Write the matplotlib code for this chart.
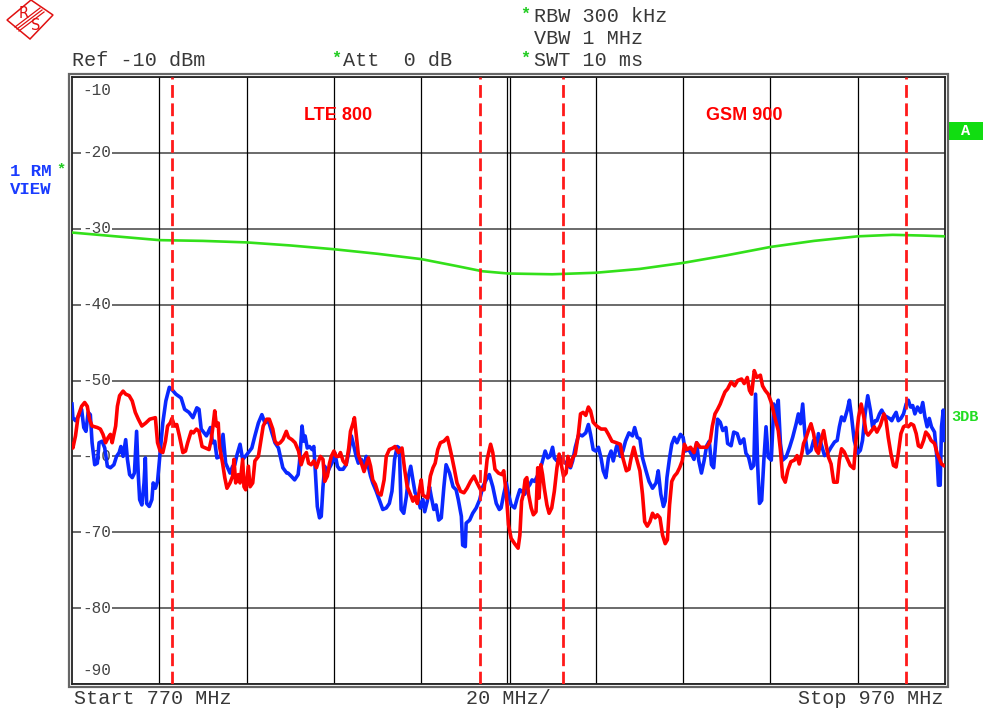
import matplotlib.pyplot as plt
import numpy as np
from matplotlib.patches import Rectangle, Polygon
from matplotlib.lines import Line2D

# --- data (MHz / dBm) ---
blue_f = [770.0, 770.2, 770.8, 771.5, 772.2, 772.7, 773.2, 773.7, 774.2, 774.6, 775.2, 775.8, 776.2, 776.9,
          777.5, 778.1, 778.8, 779.6, 780.2, 780.8, 781.2, 781.7, 782.3, 782.7, 783.2, 783.8, 784.3, 784.8,
          785.2, 785.5, 786.0, 786.5, 786.8, 787.1, 787.7, 788.3, 788.6, 789.1, 789.6, 790.2, 790.8, 791.5,
          792.3, 792.9, 793.8, 795.0, 795.8, 796.8, 797.7, 798.6, 799.1, 799.6, 800.8, 801.7, 802.2, 802.7,
          803.2, 804.0, 804.6, 805.2, 806.2, 806.8, 807.3, 807.8, 808.5, 809.1, 810.0, 811.2, 811.9, 812.7,
          813.5, 814.2, 815.0, 815.8, 816.5, 817.3, 818.3, 819.2, 819.5, 820.2, 821.0, 821.8, 822.1, 822.7,
          823.1, 823.4, 823.9, 824.4, 825.0, 825.4, 825.7, 826.2, 826.7, 827.1, 827.5, 827.9, 828.2, 829.0,
          829.8, 830.2, 830.8, 831.3, 832.1, 832.8, 833.4, 834.0, 834.6, 835.1, 835.6, 836.3, 836.9, 837.4,
          837.8, 838.4, 838.9, 839.7, 840.5, 841.2, 842.0, 842.7, 843.3, 843.9, 844.5, 845.0, 845.4, 846.0,
          846.6, 847.1, 847.6, 848.1, 848.6, 849.2, 849.8, 850.4, 850.8, 851.4, 851.9, 852.3, 852.9, 853.4,
          854.0, 854.6, 855.2, 855.7, 856.5, 857.3, 858.0, 858.5, 859.2, 859.5, 860.1, 860.3, 861.1, 861.8,
          862.6, 863.4, 864.1, 864.9, 865.6, 866.4, 867.2, 867.9, 868.3, 868.9, 869.5, 870.0, 870.6, 871.4,
          872.0, 872.6, 873.1, 873.7, 874.3, 874.9, 875.4, 876.0, 876.6, 877.2, 877.8, 878.4, 879.0, 879.5,
          880.1, 880.5, 881.1, 881.9, 882.6, 883.4, 884.2, 884.7, 885.3, 886.1, 886.9, 887.7, 888.3, 888.8,
          889.4, 890.0, 890.6, 891.2, 891.7, 892.3, 892.9, 893.5, 894.0, 894.7, 895.0, 895.6, 896.2, 896.8,
          897.6, 898.4, 898.9, 899.5, 900.1, 900.7, 901.5, 902.2, 903.0, 903.8, 904.3, 904.9, 905.5, 905.9,
          906.3, 906.9, 907.4, 908.0, 908.6, 909.4, 910.0, 910.5, 911.3, 911.9, 912.5, 913.1, 913.6, 914.2,
          914.8, 915.4, 916.0, 916.5, 917.0, 917.5, 917.9, 918.5, 919.1, 919.8, 920.2, 921.0, 921.6, 922.4,
          923.1, 923.9, 924.4, 925.0, 925.6, 926.2, 926.6, 927.1, 927.5, 928.0, 928.5, 929.0, 929.5, 930.2,
          930.8, 931.3, 931.8, 932.3, 932.8, 933.6, 934.4, 935.1, 935.9, 936.4, 936.9, 937.4, 937.9, 938.5,
          939.3, 939.9, 940.5, 941.0, 941.6, 942.4, 943.1, 943.9, 944.7, 945.3, 945.8, 946.3, 946.9, 947.6,
          948.1, 948.6, 949.2, 950.0, 950.6, 951.1, 951.7, 952.3, 952.9, 953.4, 954.0, 954.4, 955.0, 955.5,
          956.1, 956.7, 957.3, 957.8, 958.2, 958.8, 959.3, 959.9, 960.5, 961.1, 961.6, 962.1, 962.6, 963.1,
          963.7, 964.4, 964.9, 965.4, 965.9, 966.4, 966.9, 967.6, 968.2, 968.5, 968.9, 969.2, 969.6, 969.8]
blue_db = [-53.1, -54.9, -55.3, -54.7, -53.8, -56.2, -56.7, -54.2, -54.5, -58.2, -61.1, -60.9, -58.2, -58.0,
           -58.9, -61.3, -61.5, -61.1, -60.0, -59.5, -58.7, -60.0, -57.8, -60.4, -62.4, -62.8, -62.2, -56.7,
           -62.6, -65.7, -66.4, -63.5, -60.2, -66.2, -66.6, -65.7, -63.5, -64.2, -63.3, -59.5, -55.6, -52.7,
           -50.9, -51.2, -51.8, -52.3, -53.8, -54.2, -54.9, -53.6, -53.8, -56.4, -57.3, -56.2, -58.2, -58.0,
           -60.2, -60.0, -57.1, -60.9, -62.2, -61.3, -61.1, -59.8, -58.4, -60.4, -59.8, -58.9, -57.3, -55.6,
           -54.5, -55.6, -55.3, -56.9, -58.2, -58.9, -61.5, -62.2, -62.2, -62.6, -63.1, -62.4, -60.9, -56.0,
           -58.0, -57.3, -58.9, -58.7, -59.1, -58.7, -61.5, -66.6, -68.1, -67.9, -64.0, -61.3, -62.6, -61.5,
           -60.6, -59.5, -61.3, -61.7, -61.7, -61.1, -59.5, -57.3, -58.7, -60.0, -60.9, -60.4, -61.3, -60.0,
           -61.1, -62.6, -63.5, -64.6, -65.9, -67.0, -66.8, -66.2, -64.6, -60.4, -58.7, -58.9, -67.0, -67.5,
           -65.3, -62.6, -61.3, -63.1, -64.8, -65.3, -66.8, -65.7, -67.3, -65.9, -64.0, -65.3, -67.0, -66.4,
           -68.4, -68.1, -64.0, -61.1, -62.2, -64.0, -64.4, -65.7, -67.9, -71.7, -71.9, -68.8, -68.4, -67.5,
           -66.8, -65.7, -64.0, -63.1, -62.4, -64.0, -66.2, -67.0, -66.8, -65.0, -63.5, -65.0, -66.4, -66.8,
           -65.5, -64.4, -64.6, -65.0, -64.2, -63.7, -63.1, -63.3, -62.6, -61.9, -60.6, -59.3, -60.2, -60.0,
           -58.8, -60.2, -60.6, -60.2, -60.6, -61.1, -61.5, -60.6, -58.8, -57.1, -57.3, -56.9, -55.8, -57.1,
           -59.1, -59.3, -58.8, -60.2, -61.9, -62.8, -60.2, -59.3, -60.6, -58.8, -58.4, -60.0, -59.3, -58.0,
           -56.9, -57.3, -56.2, -57.5, -57.7, -60.2, -61.9, -63.3, -64.2, -63.5, -61.9, -65.0, -66.6, -65.9,
           -62.8, -60.2, -58.4, -57.5, -58.2, -57.1, -57.5, -59.3, -59.1, -59.7, -60.4, -58.2, -60.6, -62.2,
           -60.6, -58.6, -58.0, -61.1, -61.5, -58.0, -55.1, -55.5, -56.6, -56.2, -58.3, -58.6, -56.8, -57.0,
           -58.3, -57.7, -59.6, -60.1, -61.6, -61.2, -51.8, -61.4, -66.2, -65.8, -60.5, -56.1, -60.1, -60.5,
           -53.1, -55.3, -52.6, -58.3, -60.5, -60.1, -58.8, -57.5, -55.7, -54.4, -55.7, -53.1, -57.0, -59.6,
           -59.2, -57.9, -59.0, -57.0, -58.3, -59.9, -59.6, -58.8, -58.1, -57.9, -56.1, -54.8, -55.3, -53.9,
           -52.6, -54.8, -57.9, -59.6, -59.2, -57.9, -54.4, -52.0, -53.9, -56.1, -55.3, -55.3, -54.4, -53.9,
           -54.6, -54.8, -55.0, -55.3, -54.8, -54.2, -55.3, -55.0, -54.4, -53.1, -52.6, -53.5, -53.3, -54.4,
           -53.5, -54.2, -52.9, -54.8, -56.1, -55.0, -56.1, -56.8, -60.5, -63.8, -63.8, -56.1, -53.9, -57.9]

red_f = [770.0, 770.2, 770.8, 771.4, 772.2, 772.9, 773.5, 774.0, 774.6, 775.8, 776.5, 777.1, 777.7, 778.3,
         778.8, 779.2, 780.0, 780.4, 780.9, 781.7, 782.3, 783.1, 783.8, 784.5, 785.2, 786.0, 786.9, 787.8,
         789.1, 789.6, 790.2, 790.8, 791.4, 791.9, 792.5, 792.9, 793.5, 794.0, 794.6, 795.4, 796.0, 796.5,
         797.3, 797.8, 798.5, 799.1, 799.8, 800.6, 801.4, 801.9, 802.3, 802.7, 803.1, 803.5, 803.8, 804.5,
         805.0, 805.5, 806.2, 806.8, 807.1, 807.5, 808.1, 808.5, 809.1, 809.4, 809.8, 810.4, 810.8, 811.4,
         811.9, 812.7, 813.2, 813.8, 814.6, 815.2, 816.0, 816.5, 817.1, 817.7, 818.3, 819.1, 819.6, 820.4,
         821.1, 821.9, 822.5, 823.1, 823.7, 824.2, 824.8, 825.4, 826.0, 826.5, 826.9, 827.5, 827.9, 828.5,
         829.0, 829.4, 830.0, 830.5, 831.1, 831.5, 832.1, 832.8, 833.4, 833.8, 834.4, 834.7, 835.1, 835.6,
         836.3, 836.9, 837.4, 837.9, 838.4, 838.9, 839.5, 840.1, 840.8, 841.5, 842.0, 842.7, 843.5, 844.0,
         844.8, 845.6, 846.2, 846.8, 847.6, 848.1, 848.6, 849.1, 849.6, 850.0, 850.4, 850.9, 851.5, 852.1,
         852.7, 853.2, 853.8, 854.4, 855.2, 856.0, 856.5, 857.0, 857.6, 858.2, 859.0, 859.8, 860.5, 861.3,
         862.1, 862.8, 863.6, 864.4, 865.1, 865.9, 866.4, 866.9, 867.7, 868.5, 868.9, 869.5, 870.0, 870.6,
         871.4, 872.2, 872.6, 873.0, 873.4, 873.8, 874.2, 874.6, 875.2, 875.7, 876.3, 876.7, 877.0, 877.4,
         877.8, 878.2, 878.8, 879.3, 879.9, 880.5, 881.1, 881.6, 882.1, 882.6, 883.2, 883.6, 884.2, 884.7,
         885.3, 886.0, 886.5, 887.1, 887.7, 888.3, 888.8, 889.4, 890.2, 891.2, 892.2, 892.9, 893.7, 894.7,
         895.6, 896.2, 897.0, 897.6, 898.1, 898.7, 899.3, 900.1, 900.7, 901.2, 901.8, 902.4, 903.0, 903.6,
         904.1, 904.7, 905.3, 905.9, 906.4, 906.9, 907.4, 908.0, 908.6, 909.2, 909.8, 910.3, 910.9, 911.7,
         912.5, 913.1, 913.9, 914.7, 915.4, 916.2, 916.7, 917.3, 917.9, 918.5, 919.1, 919.6, 920.2, 921.0,
         921.8, 922.5, 923.4, 924.0, 924.7, 925.2, 925.7, 926.3, 926.9, 927.7, 928.2, 928.8, 929.5, 930.2,
         930.8, 931.3, 931.8, 932.3, 932.8, 933.4, 934.0, 934.7, 935.5, 936.1, 936.6, 937.2, 937.6, 938.2,
         938.7, 939.3, 939.9, 940.5, 941.0, 941.6, 942.2, 942.7, 943.3, 943.9, 944.5, 945.3, 945.8, 946.3,
         946.9, 947.6, 948.3, 949.1, 949.6, 950.2, 950.8, 951.4, 951.9, 952.4, 953.2, 953.8, 954.4, 955.2,
         956.0, 956.5, 957.0, 957.6, 958.2, 958.8, 959.3, 959.9, 960.5, 961.1, 961.6, 962.2, 962.8, 963.4,
         963.9, 964.5, 965.1, 965.6, 966.2, 966.8, 967.6, 968.2, 968.7, 969.2, 969.7]
red_db = [-58.4, -58.9, -57.3, -54.7, -53.4, -52.9, -53.4, -55.1, -56.0, -56.2, -56.4, -57.1, -58.2, -57.5,
          -57.1, -58.2, -56.0, -53.4, -52.0, -51.4, -51.8, -52.0, -52.7, -54.2, -55.1, -56.0, -55.6, -55.1,
          -54.9, -58.2, -59.3, -59.5, -58.0, -56.0, -55.6, -55.0, -56.0, -55.8, -57.3, -59.5, -59.3, -58.2,
          -56.7, -56.9, -56.4, -56.7, -58.7, -58.9, -59.1, -57.8, -56.0, -54.0, -56.0, -55.6, -58.7, -60.9,
          -62.8, -64.2, -63.5, -62.6, -60.4, -63.5, -62.4, -63.5, -60.4, -64.0, -64.4, -61.3, -64.0, -63.5,
          -60.6, -60.0, -58.2, -56.0, -55.1, -55.1, -56.4, -58.0, -58.4, -58.2, -57.8, -56.7, -57.5, -57.8,
          -58.2, -59.3, -61.1, -60.0, -59.5, -60.9, -61.1, -60.6, -61.5, -60.6, -60.0, -60.4, -63.3, -62.6,
          -60.9, -60.0, -59.3, -60.0, -60.0, -59.5, -60.6, -61.1, -58.9, -56.7, -55.6, -54.9, -57.1, -59.8,
          -60.9, -62.0, -61.1, -60.2, -61.3, -63.1, -63.7, -64.8, -65.1, -63.1, -60.0, -59.1, -58.9, -58.7,
          -59.5, -58.9, -61.7, -64.0, -65.1, -65.9, -65.3, -66.2, -64.4, -63.1, -65.1, -65.3, -65.5, -62.6,
          -61.5, -60.9, -59.1, -58.2, -58.0, -57.5, -58.7, -60.0, -61.7, -63.5, -64.6, -64.8, -64.2, -63.3,
          -62.6, -63.5, -64.4, -64.4, -60.4, -58.4, -59.5, -61.7, -62.2, -62.4, -61.9, -65.0, -69.0, -70.8,
          -71.5, -72.1, -70.4, -65.9, -65.0, -63.1, -62.8, -65.0, -66.8, -67.7, -67.3, -61.5, -65.5, -61.1,
          -62.4, -64.2, -66.4, -67.5, -66.8, -64.6, -61.5, -59.7, -61.1, -62.6, -62.2, -60.0, -61.3, -60.2,
          -59.7, -57.1, -54.4, -54.2, -54.6, -53.5, -54.0, -55.5, -56.0, -56.4, -56.4, -57.1, -58.0, -58.2,
          -58.4, -60.2, -61.9, -61.7, -60.2, -58.8, -60.2, -61.9, -65.0, -68.6, -69.2, -68.6, -67.5, -68.1,
          -67.7, -68.1, -70.4, -71.5, -71.0, -66.4, -63.3, -62.6, -62.2, -61.5, -60.6, -58.4, -59.1, -58.8,
          -59.5, -58.2, -58.8, -58.8, -58.8, -58.0, -56.0, -54.4, -53.8, -53.1, -52.2, -51.5, -51.1, -50.2,
          -50.7, -50.0, -49.8, -50.4, -49.6, -51.3, -51.8, -48.7, -49.6, -49.3, -50.7, -51.3, -51.8, -52.9,
          -54.4, -55.5, -56.6, -59.2, -62.7, -63.4, -61.8, -60.7, -60.5, -59.9, -61.0, -59.6, -58.3, -57.5,
          -56.6, -55.7, -57.0, -59.2, -59.6, -57.9, -56.6, -58.3, -60.1, -61.0, -63.4, -63.4, -60.5, -59.0,
          -59.4, -60.3, -61.2, -61.6, -57.9, -54.8, -53.1, -54.8, -56.8, -57.2, -56.6, -56.1, -56.8, -55.9,
          -54.4, -55.3, -57.5, -59.6, -61.2, -61.4, -59.6, -57.0, -56.1, -55.9, -56.1, -55.7, -55.9, -57.0,
          -58.6, -58.8, -57.9, -56.8, -57.2, -57.9, -58.3, -59.6, -60.3, -61.0, -61.2]

ref_f = [770, 776, 782, 790, 800, 810, 820, 830, 840, 850, 858, 864, 870, 880,
         890, 900, 910, 920, 930, 940, 950, 958, 965, 970]
ref_db = [-30.5, -30.8, -31.1, -31.5, -31.6, -31.8, -32.2, -32.7, -33.3, -34.0, -34.9, -35.6, -35.9, -36.0,
          -35.8, -35.3, -34.5, -33.5, -32.4, -31.6, -31.0, -30.8, -30.9, -31.0]

band_edges = [793.0, 863.5, 882.5, 961.0]
band_labels = ["LTE 800", "GSM 900"]
band_label_f = [831.0, 924.0]

y_ticks = [-10, -20, -30, -40, -50, -60, -70, -80, -90]

W, H = 985, 711
MONO = "Liberation Mono"
TXT = "#383838"


def px(x, y):
    return x / W, 1 - y / H


def main():
    fig = plt.figure(figsize=(W / 100, H / 100), dpi=100)
    ax = fig.add_axes([72 / W, 1 - 684 / H, 873 / W, 607 / H])
    ax.set_xlim(770, 970)
    ax.set_ylim(-90, -10)
    ax.set_xticks([])
    ax.set_yticks([])
    for s in ax.spines.values():
        s.set_color("#222222")
        s.set_linewidth(1.3)

    # outer frame
    fig.add_artist(Rectangle(px(69, 687), 879 / W, 613 / H, fill=False,
                             ec="#666666", lw=1.6, transform=fig.transFigure))

    # grid
    for v in y_ticks:
        ax.axhline(v, color="#6a6a6a", lw=1.4, zorder=1)
    for f in np.arange(790, 970, 20):
        if f == 870:
            ax.axvline(869.75, color="black", lw=0.9, zorder=1)
            ax.axvline(870.45, color="black", lw=0.9, zorder=1)
        else:
            ax.axvline(f, color="black", lw=0.9, zorder=1)

    # y labels inside the plot
    for v in y_ticks:
        yy = v
        if v == -10:
            yy = -11.8
        elif v == -90:
            yy = -88.2
        ax.text(0.0115, yy, str(v), transform=ax.get_yaxis_transform(),
                family=MONO, fontsize=11.5, color="#444444", va="center", ha="left",
                bbox=dict(fc="white", ec="none", pad=1.0), zorder=1.5)

    # traces
    ax.plot(ref_f, ref_db, color="#33e01a", lw=1.9, zorder=3)
    ax.plot(blue_f, blue_db, color="#0a28ff", lw=2.6, zorder=4, solid_joinstyle="round")
    ax.plot(red_f, red_db, color="#ff0000", lw=2.6, zorder=5, solid_joinstyle="round")

    # band edges
    for f in band_edges:
        ax.axvline(f, color="#ff1a1a", lw=2.0, linestyle=(0, (4.6, 2.0)), zorder=6)
    for lab, f in zip(band_labels, band_label_f):
        ax.text(f, -15.1, lab, color="#ff0000", fontsize=13, fontweight="bold",
                family="Liberation Sans", ha="center", va="center", zorder=6)

    # header texts
    fig.text(*px(72, 60), "Ref -10 dBm", family=MONO, fontsize=14.5, color=TXT, va="center")
    fig.text(*px(331, 58), "*", family=MONO, fontsize=12, color="#22cc22", va="center", fontweight="bold")
    fig.text(*px(343, 60), "Att  0 dB", family=MONO, fontsize=14.5, color=TXT, va="center")
    fig.text(*px(520, 14), "*", family=MONO, fontsize=12, color="#22cc22", va="center", fontweight="bold")
    fig.text(*px(534, 16), "RBW 300 kHz", family=MONO, fontsize=14.5, color=TXT, va="center")
    fig.text(*px(534, 38), "VBW 1 MHz", family=MONO, fontsize=14.5, color=TXT, va="center")
    fig.text(*px(520, 58), "*", family=MONO, fontsize=12, color="#22cc22", va="center", fontweight="bold")
    fig.text(*px(534, 60), "SWT 10 ms", family=MONO, fontsize=14.5, color=TXT, va="center")

    # footer texts
    fig.text(*px(74, 699), "Start 770 MHz", family=MONO, fontsize=14.5, color=TXT, va="center")
    fig.text(*px(508, 699), "20 MHz/", family=MONO, fontsize=14.5, color=TXT, va="center", ha="center")
    fig.text(*px(943, 699), "Stop 970 MHz", family=MONO, fontsize=14.5, color=TXT, va="center", ha="right")

    # trace info at left
    fig.text(*px(10, 171), "1 RM", family=MONO, fontsize=12.5, fontweight="bold", color="#1a3cff", va="center")
    fig.text(*px(56, 169), "*", family=MONO, fontsize=11, fontweight="bold", color="#22cc22", va="center")
    fig.text(*px(10, 190), "VIEW", family=MONO, fontsize=12.5, fontweight="bold", color="#1a3cff", va="center")

    # right side markers
    fig.add_artist(Rectangle(px(949, 140), 34 / W, 18 / H, fc="#11dd11", ec="none",
                             transform=fig.transFigure))
    fig.text(*px(966, 131), "A", family=MONO, fontsize=11, fontweight="bold", color="white",
             va="center", ha="center")
    fig.text(*px(951, 417), "3DB", family=MONO, fontsize=11, fontweight="bold", color="#22dd22", va="center")

    # R&S logo
    diamond = [px(7, 20), px(31, 0), px(53, 15), px(30, 39)]
    fig.add_artist(Polygon(diamond, closed=True, fill=False, ec="#e01010", lw=1.1,
                           transform=fig.transFigure))
    for d in (-2.0, 0, 2.0):
        x0, y0 = px(17 + d, 29 + d)
        x1, y1 = px(42 + d, 10 + d)
        fig.add_artist(Line2D([x0, x1], [y0, y1], color="#e01010", lw=0.9,
                              transform=fig.transFigure))
    fig.text(*px(24, 13), "R", fontsize=10.5, color="#e01010", ha="center", va="center",
             family="DejaVu Sans")
    fig.text(*px(36, 26), "S", fontsize=10.5, color="#e01010", ha="center", va="center",
             family="DejaVu Sans")

    fig.savefig("out.png", dpi=100)


if __name__ == "__main__":
    main()
